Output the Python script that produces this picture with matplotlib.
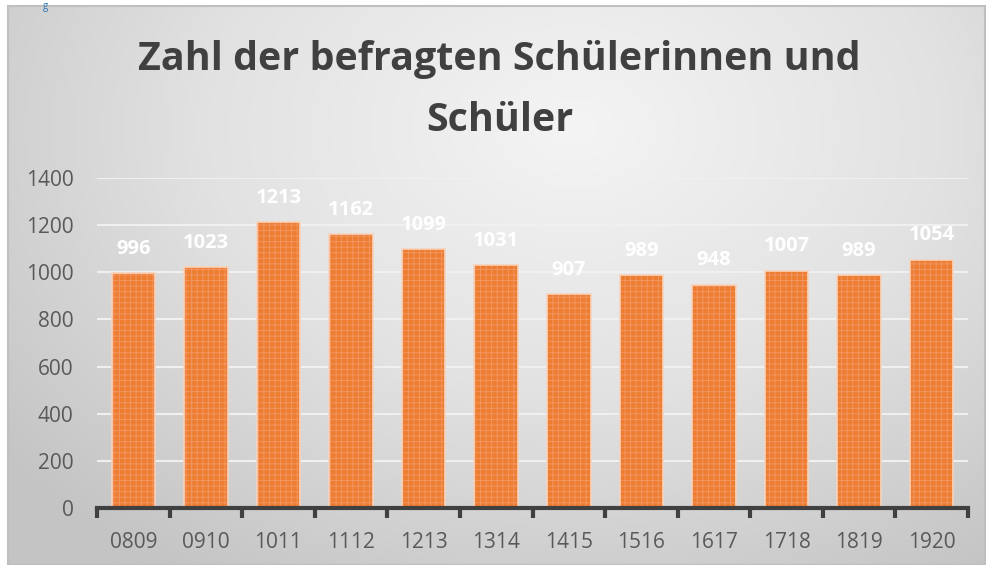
import numpy as np
import matplotlib.pyplot as plt
from matplotlib.colors import LinearSegmentedColormap

categories = ["0809", "0910", "1011", "1112", "1213", "1314", "1415", "1516", "1617", "1718", "1819", "1920"]
values = [996, 1023, 1213, 1162, 1099, 1031, 907, 989, 948, 1007, 989, 1054]
yticks = [0, 200, 400, 600, 800, 1000, 1200, 1400]
title = "Zahl der befragten Schülerinnen und\nSchüler"

plt.rcParams['font.family'] = ['Open Sans', 'DejaVu Sans']
plt.rcParams['hatch.linewidth'] = 0.7

W, H = 988, 565
fig = plt.figure(figsize=(W / 100, H / 100), dpi=100)
fig.patch.set_facecolor('white')

# background gradient panel
bg = fig.add_axes([8 / W, 0, (985 - 8) / W, (565 - 6) / H])
bg.set_axis_off()
yy, xx = np.mgrid[0:1:300j, 0:1:500j]
d = np.sqrt(((xx - 0.58) / 0.75) ** 2 + ((yy - 0.22) / 0.95) ** 2)
d = np.clip(d, 0, 1)
cmap = LinearSegmentedColormap.from_list('g', ['#F4F4F4', '#E2E2E2', '#C4C4C4'])
bg.imshow(d, cmap=cmap, aspect='auto', extent=[0, 1, 0, 1], origin='upper', vmin=0, vmax=1)
bg.set_xlim(0, 1)
bg.set_ylim(0, 1)
bg.add_patch(plt.Rectangle((0, 0), 1, 1, fill=False, edgecolor='#BFBFBF', linewidth=1.5,
                           transform=bg.transAxes, clip_on=False))

fig.text(45 / W, 1 - 1 / H, "g", color='#2E75B6', fontsize=7, ha='center', va='top')

ax = fig.add_axes([97 / W, 1 - 508 / H, (968 - 97) / W, (508 - 178) / H])
ax.patch.set_alpha(0)
x = np.arange(len(categories))
ax.bar(x, values, width=0.6, color='#ED7D31', edgecolor='#F29560', hatch='+++', linewidth=0, zorder=3)
ax.bar(x, values, width=0.6, facecolor='none', edgecolor='#F8D3BC', linewidth=1.2, zorder=4)
for xi, v in zip(x, values):
    ax.annotate(str(v), (xi, v), xytext=(0, 17.5), textcoords='offset points', ha='center', va='center',
                color='white', fontsize=14.5, fontweight='bold', zorder=5)

ax.set_ylim(0, 1400)
ax.set_xlim(-0.5, len(categories) - 0.5)
ax.set_yticks(yticks)
ax.set_yticklabels([str(t) for t in yticks])
ax.set_xticks(x)
ax.set_xticklabels(categories)
ax.set_xticks(np.arange(-0.5, len(categories), 1), minor=True)
ax.tick_params(axis='x', which='major', length=0, pad=17, labelsize=15, labelcolor='#595959')
ax.tick_params(axis='x', which='minor', length=7, width=3, color='#404040', direction='out')
ax.tick_params(axis='y', length=0, pad=17, labelsize=15, labelcolor='#595959')
ax.yaxis.grid(True, color='#F0F0F0', linewidth=1.5, zorder=0)
for s in ['top', 'right', 'left']:
    ax.spines[s].set_visible(False)
ax.spines['bottom'].set_color('#404040')
ax.spines['bottom'].set_linewidth(3)
ax.spines['bottom'].set_zorder(6)

fig.text(0.5 * (8 + 985) / W + 0.003, 1 - 90 / H, title, ha='center', va='center', fontsize=28.4,
         fontweight='bold', color='#404040', linespacing=1.72)

fig.savefig('out.png', dpi=100)
